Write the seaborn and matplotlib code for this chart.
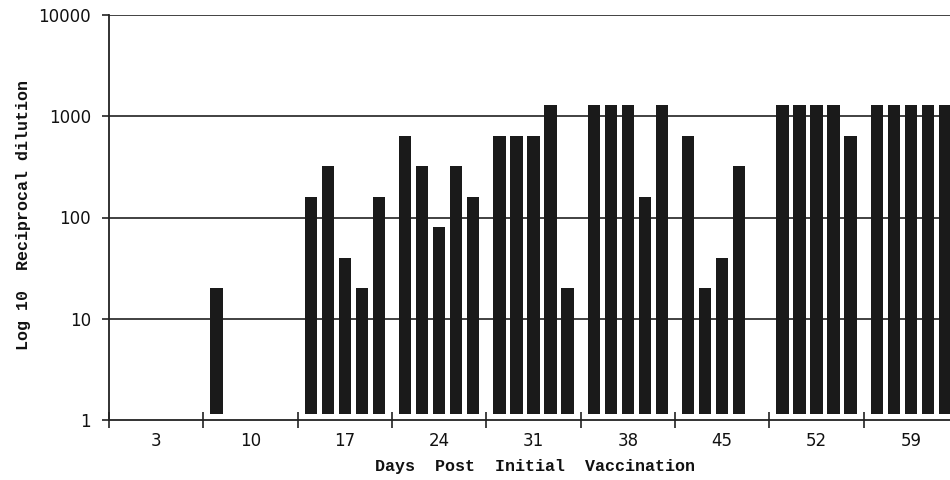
import numpy as np
import pandas as pd
import matplotlib
matplotlib.use("Agg")
import matplotlib.pyplot as plt
import seaborn as sns

days = ["3", "10", "17", "24", "31", "38", "45", "52", "59"]
# reciprocal dilution per animal (NaN = no titre)
animal_1 = [np.nan, 20, 160, 640, 640, 1280, 640, 1280, 1280]
animal_2 = [np.nan, np.nan, 320, 320, 640, 1280, 20, 1280, 1280]
animal_3 = [np.nan, np.nan, 40, 80, 640, 1280, 40, 1280, 1280]
animal_4 = [np.nan, np.nan, 20, 320, 1280, 160, 320, 1280, 1280]
animal_5 = [np.nan, np.nan, 160, 160, 20, 1280, np.nan, 640, 1280]
animals = ["1", "2", "3", "4", "5"]
yticks = [1, 10, 100, 1000, 10000]

rows = []
for a, vals in zip(animals, [animal_1, animal_2, animal_3, animal_4, animal_5]):
    for d, v in zip(days, vals):
        rows.append({"day": d, "animal": a, "titre": v})
df = pd.DataFrame(rows)

sns.set_style("white")
fig = plt.figure(figsize=(9.5, 4.8), dpi=100)
ax = fig.add_axes([109 / 950, 1 - 420 / 480, (958 - 109) / 950, (420 - 15) / 480])

sns.barplot(data=df, x="day", y="titre", hue="animal", order=days, hue_order=animals,
            palette=["#1a1a1a"] * 5, width=0.9, gap=0.28, legend=False,
            saturation=1, linewidth=0, errorbar=None, ax=ax, zorder=3)

ax.set_yscale("log")
base = 1.15
for p in ax.patches:
    h = p.get_height()
    if np.isfinite(h) and h > 0:
        p.set_y(base)
        p.set_height(h - base)

ax.set_ylim(1, 10000)
ax.set_xlim(-0.5, 8.5)
ax.set_yticks(yticks)
ax.set_yticklabels([str(t) for t in yticks])
ax.yaxis.set_minor_locator(matplotlib.ticker.NullLocator())

for t in yticks[1:]:
    ax.axhline(t, color="#333333", lw=1.3, zorder=1)

for s in ["top", "right"]:
    ax.spines[s].set_visible(False)
for s in ["left", "bottom"]:
    ax.spines[s].set_color("#222222")
    ax.spines[s].set_linewidth(1.3)

ax.set_xticks(np.arange(len(days)))
ax.set_xticklabels(days)
ax.set_xticks(np.arange(-0.5, len(days)), minor=True)
ax.tick_params(axis="both", which="both", bottom=True, left=True)
ax.tick_params(axis="x", which="major", length=0, pad=9, labelsize=12, labelcolor="#111111")
ax.tick_params(axis="x", which="minor", direction="inout", length=11, width=1.2, color="#222222")
ax.tick_params(axis="y", which="major", direction="out", length=5, width=1.2, color="#222222",
               pad=8, labelsize=12, labelcolor="#111111")

mono = {"family": "Liberation Mono", "weight": "bold", "size": 12}
ax.set_xlabel("Days  Post  Initial  Vaccination", fontdict=mono, color="#111111", va="center")
ax.set_ylabel("Log 10  Reciprocal dilution", fontdict=mono, color="#111111", va="center")
ax.xaxis.set_label_coords((535 - 109) / (958 - 109), -(467 - 420) / 405)
ax.yaxis.set_label_coords(-(109 - 23) / (958 - 109), (420 - 215) / 405)

fig.savefig("out.png", dpi=100)
